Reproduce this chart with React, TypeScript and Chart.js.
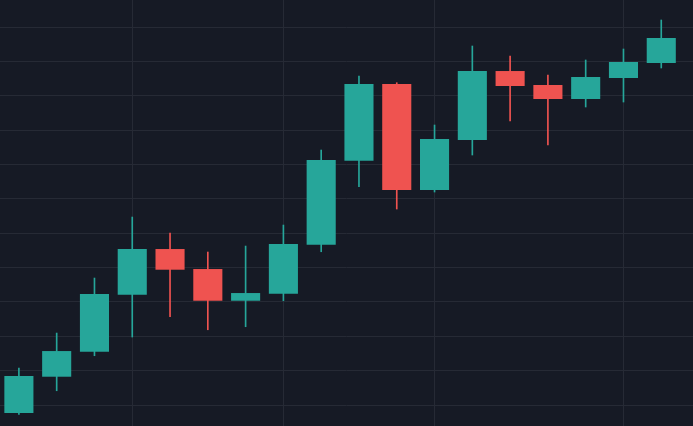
import React, { useEffect, useRef } from "react";
import { Chart, registerables } from "chart.js";

Chart.register(...registerables);

const opens = [97.66, 108.23, 115.5, 132.09, 145.39, 139.57, 130.34, 132.38, 146.64, 171.09, 193.41, 162.56, 177.11, 197.19, 193.12, 189.05, 195.16, 199.52];
const highs = [110.76, 120.94, 136.95, 154.7, 150.05, 144.52, 146.26, 152.37, 174.2, 195.74, 193.79, 181.48, 204.47, 201.56, 196.03, 200.4, 203.6, 212.04];
const lows = [97.28, 104.15, 114.34, 119.78, 125.69, 121.9, 122.78, 130.34, 144.6, 163.52, 157.03, 161.98, 172.75, 182.64, 175.66, 186.72, 188.17, 198.07];
const closes = [108.43, 115.7, 132.29, 145.39, 139.37, 130.34, 132.58, 146.85, 171.29, 193.41, 162.56, 177.4, 197.19, 192.83, 189.05, 195.45, 199.81, 206.8];

const priceGrid = [100, 110, 120, 130, 140, 150, 160, 170, 180, 190, 200, 210];
const timeGrid = [3, 7, 11, 16];

const UP = "#26a69a";
const DOWN = "#ef5350";
const BG = "#161a25";
const GRID = "#262a35";

export default function App() {
  const ref = useRef<HTMLCanvasElement | null>(null);

  useEffect(() => {
    if (!ref.current) return;
    const idx = opens.map((_, i) => i);
    const colors = idx.map((i) => (closes[i] >= opens[i] ? UP : DOWN));
    const chart = new Chart(ref.current, {
      type: "bar",
      data: {
        datasets: [
          {
            label: "body",
            data: idx.map((i) => ({ x: i, y: [opens[i], closes[i]] })) as any,
            backgroundColor: colors,
            borderWidth: 0,
            barPercentage: 0.77,
            categoryPercentage: 1,
            grouped: false,
            order: 0,
          } as any,
          {
            label: "wick",
            data: idx.map((i) => ({ x: i, y: [lows[i], highs[i]] })) as any,
            backgroundColor: colors,
            borderWidth: 0,
            barThickness: 1,
            grouped: false,
            order: 1,
          } as any,
        ],
      },
      options: {
        animation: false,
        responsive: false,
        layout: { padding: 0 },
        plugins: { legend: { display: false }, tooltip: { enabled: false } },
        scales: {
          x: {
            type: "linear",
            min: -0.5,
            max: 17.84,
            offset: false,
            afterBuildTicks: (s: any) => {
              s.ticks = timeGrid.map((v) => ({ value: v }));
            },
            ticks: { display: false },
            grid: { color: GRID, lineWidth: 1, drawTicks: false, offset: false },
            border: { display: false },
          },
          y: {
            type: "linear",
            min: 93.89,
            max: 217.86,
            afterBuildTicks: (s: any) => {
              s.ticks = priceGrid.map((v) => ({ value: v }));
            },
            ticks: { display: false },
            grid: { color: GRID, lineWidth: 1, drawTicks: false },
            border: { display: false },
          },
        },
      },
    });
    return () => chart.destroy();
  }, []);

  return (
    <div
      style={{
        position: "fixed",
        left: 0,
        top: 0,
        width: 693,
        height: 426,
        background: BG,
        overflow: "hidden",
      }}
    >
      <canvas ref={ref} width={693} height={426} style={{ display: "block", width: 693, height: 426 }} />
    </div>
  );
}
